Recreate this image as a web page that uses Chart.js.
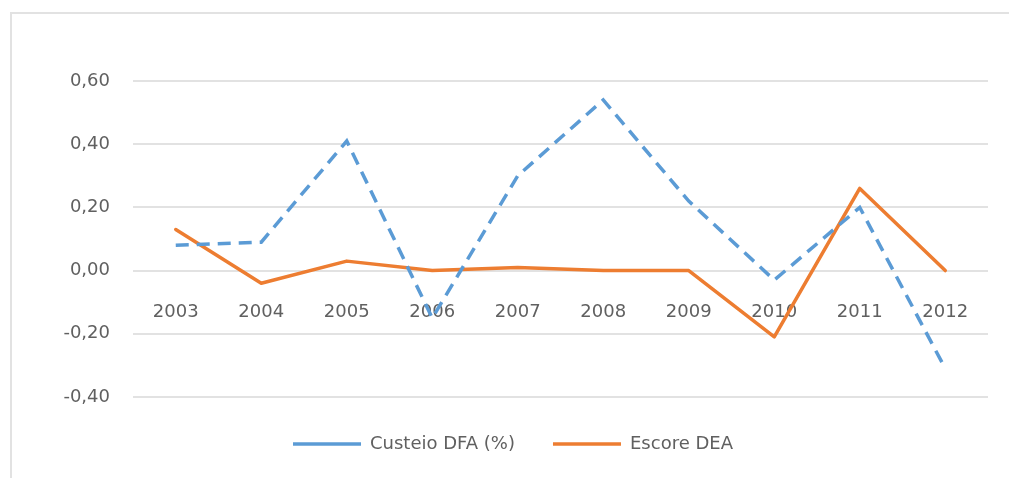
<!DOCTYPE html>
<html>
<head>
<meta charset="utf-8">
<script src="https://cdn.jsdelivr.net/npm/chart.js@4/dist/chart.umd.min.js"></script>
<style>
  html, body { margin: 0; padding: 0; background: #fff; overflow: hidden; }
  #wrap { position: relative; width: 1009px; height: 478px; }
  #frame { position: absolute; left: 10px; top: 12px; width: 1010px; height: 480px; border: 2px solid #e2e2e2; box-sizing: border-box; }
  #c { position: absolute; left: 0; top: 0; }
</style>
</head>
<body>
<div id="wrap">
  <div id="frame"></div>
  <canvas id="c" width="1009" height="478"></canvas>
</div>
<script>
// Years on the category axis
const years = ['2003', '2004', '2005', '2006', '2007', '2008', '2009', '2010', '2011', '2012'];

// Series values
const custeioDFA = [0.08, 0.09, 0.41, -0.15, 0.30, 0.54, 0.22, -0.03, 0.20, -0.31];
const escoreDEA  = [0.13, -0.04, 0.03, 0.00, 0.01, 0.00, 0.00, -0.21, 0.26, 0.00];

// Value axis range and step
const yMin = -0.4;
const yMax = 0.6;
const yStep = 0.2;

const FONT = "'DejaVu Sans', sans-serif";
const TEXT = '#606060';

new Chart(document.getElementById('c'), {
  type: 'line',
  data: {
    labels: years,
    datasets: [
      {
        label: 'Custeio DFA (%)',
        data: custeioDFA,
        borderColor: '#5B9BD5',
        backgroundColor: '#5B9BD5',
        borderWidth: 3.5,
        borderDash: [13, 8],
        borderCapStyle: 'butt',
        pointRadius: 0,
        pointStyle: 'line',
        tension: 0,
        fill: false
      },
      {
        label: 'Escore DEA',
        data: escoreDEA,
        borderColor: '#ED7D31',
        backgroundColor: '#ED7D31',
        borderWidth: 3.5,
        borderCapStyle: 'round',
        borderJoinStyle: 'round',
        pointRadius: 0,
        pointStyle: 'line',
        tension: 0,
        fill: false
      }
    ]
  },
  options: {
    responsive: false,
    animation: false,
    layout: { padding: { left: 38, right: 21, top: 81, bottom: 15 } },
    scales: {
      x: {
        type: 'category',
        position: { y: 0 },
        offset: true,
        grid: { display: false, drawTicks: false },
        border: { display: false },
        ticks: {
          color: TEXT,
          font: { family: FONT, size: 18 },
          padding: 31,
          maxRotation: 0,
          autoSkip: false
        }
      },
      y: {
        min: yMin,
        max: yMax,
        afterFit: (axis) => { axis.width = 95; },
        grid: { color: '#e2e2e2', lineWidth: 2, drawTicks: false },
        border: { display: false },
        ticks: {
          stepSize: yStep,
          color: TEXT,
          padding: 23,
          font: { family: FONT, size: 18 },
          callback: (v) => Number(v).toFixed(2).replace('.', ',')
        }
      }
    },
    plugins: {
      tooltip: { enabled: false },
      legend: {
        position: 'bottom',
        labels: {
          usePointStyle: true,
          pointStyle: 'line',
          pointStyleWidth: 68,
          boxHeight: 18,
          padding: 38,
          color: TEXT,
          font: { family: FONT, size: 18 }
        }
      }
    }
  }
});
</script>
</body>
</html>
